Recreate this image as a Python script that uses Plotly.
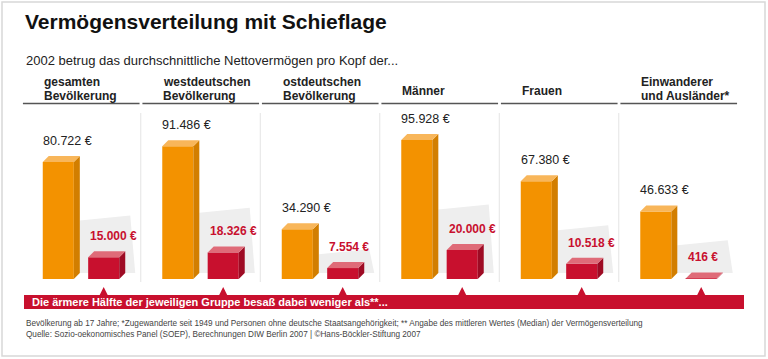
import plotly.graph_objects as go

# ---------------- data ----------------
header_line1 = ["gesamten", "westdeutschen", "ostdeutschen", "", "", "Einwanderer"]
header_line2 = ["Bevölkerung", "Bevölkerung", "Bevölkerung", "Männer", "Frauen", "und Ausländer*"]
header_single = [False, False, False, True, True, False]
mean_wealth = [80722, 91486, 34290, 95928, 67380, 46633]     # durchschnittliches Nettovermögen
median_wealth = [15000, 18326, 7554, 20000, 10518, 416]       # ärmere Hälfte besaß weniger als

title = "Vermögensverteilung mit Schieflage"
subtitle = "2002 betrug das durchschnittliche Nettovermögen pro Kopf der..."
banner_text = "Die ärmere Hälfte der jeweiligen Gruppe besaß dabei weniger als**..."
foot1 = ("Bevölkerung ab 17 Jahre; *Zugewanderte seit 1949 und Personen ohne deutsche "
         "Staatsangehörigkeit; ** Angabe des mittleren Wertes (Median) der Vermögensverteilung")
foot2 = ("Quelle: Sozio-oekonomisches Panel (SOEP), Berechnungen DIW Berlin 2007 | "
         "©Hans-Böckler-Stiftung 2007")

# ---------------- layout geometry ----------------
W, H = 768, 359
UNIT = 119.5          # px per panel
X0 = 81.0             # px of panel 0 centre
KPX = 1.45 / 1000     # px per euro
BASE = 279.0          # px of baseline from top
FONT = "Liberation Sans, Arial, Helvetica, sans-serif"

ORANGE = "#F39200"; ORANGE_SIDE = "#D27E00"; ORANGE_TOP = "#F8B65A"
RED = "#C8102E"; RED_SIDE = "#9E0B24"; RED_TOP = "#DF6B78"
TEXT = "#222222"

def px_x(p):   # horizontal pixel -> x data
    return (p - X0) / UNIT

def px_y(p):   # vertical pixel (from top) -> y data
    return (BASE - p) / KPX

def fx(p):
    return p / W

def fy(p):
    return 1 - p / H

OFF = 0.19
BW = 0.26
DX = 6 / UNIT
DY = 6 / KPX

def eur(v):
    return f"{v:,}".replace(",", ".") + " €"

fig = go.Figure()

n = len(mean_wealth)
xs = list(range(n))
xo = [i - OFF for i in xs]
xr = [i + OFF for i in xs]

annotations = []
shapes = []

def poly_path(px, py):
    return "M " + " L ".join(f"{a},{b}" for a, b in zip(px, py)) + " Z"

# shadows (below the bars)
for i in xs:
    v = mean_wealth[i]
    h = 0.5 * v
    left = xo[i] + BW / 2 + DX
    right = xr[i] + BW / 2 + DX
    sx = [left, left, right + 5 / UNIT, right + 10 / UNIT]
    sy = [DY, h, h + 5 / KPX, DY]
    shapes.append(dict(type="path", xref="x", yref="y", path=poly_path(sx, sy),
                       fillcolor="#EEEEEE", line=dict(width=0), layer="below"))

# front faces as real bars
fig.add_trace(go.Bar(x=xo, y=mean_wealth, width=BW, marker=dict(color=ORANGE, line=dict(width=0)),
                     showlegend=False, hoverinfo="skip"))
fig.add_trace(go.Bar(x=xr, y=median_wealth, width=BW, marker=dict(color=RED, line=dict(width=0)),
                     showlegend=False, hoverinfo="skip"))

# 3D side and top faces
def faces(xc, v, side_col, top_col):
    l = xc - BW / 2
    r = xc + BW / 2
    fig.add_trace(go.Scatter(x=[r, r, r + DX, r + DX, r], y=[0, v, v + DY, DY, 0],
                             mode="lines", fill="toself", fillcolor=side_col,
                             line=dict(width=0), hoverinfo="skip", showlegend=False))
    fig.add_trace(go.Scatter(x=[l, r, r + DX, l + DX, l], y=[v, v, v + DY, v + DY, v],
                             mode="lines", fill="toself", fillcolor=top_col,
                             line=dict(width=0), hoverinfo="skip", showlegend=False))

for i in xs:
    faces(xo[i], mean_wealth[i], ORANGE_SIDE, ORANGE_TOP)
    faces(xr[i], median_wealth[i], RED_SIDE, RED_TOP)

# value labels
for i in xs:
    annotations.append(dict(x=xo[i] - BW / 2 - 2 / UNIT, y=mean_wealth[i], xref="x", yref="y",
                            text=eur(mean_wealth[i]), showarrow=False, xanchor="left",
                            yanchor="middle", yshift=21,
                            font=dict(family=FONT, size=12.5, color=TEXT)))
    annotations.append(dict(x=xr[i] - BW / 2, y=median_wealth[i], xref="x", yref="y",
                            text="<b>" + eur(median_wealth[i]) + "</b>", showarrow=False,
                            xanchor="left", yanchor="middle", yshift=21,
                            font=dict(family=FONT, size=12, color=RED)))
    # arrows from banner
    annotations.append(dict(x=xr[i], y=px_y(287), xref="x", yref="y", text="",
                            showarrow=True, ax=0, ay=9, arrowhead=2, arrowsize=0.9,
                            arrowwidth=2.6, arrowcolor=RED))

# headers
for i in xs:
    hx = xo[i] - BW / 2 - 1 / UNIT
    if header_single[i]:
        annotations.append(dict(x=hx, y=fy(91), xref="x", yref="paper", text="<b>" + header_line2[i] + "</b>",
                                showarrow=False, xanchor="left", yanchor="middle",
                                font=dict(family=FONT, size=12, color=TEXT)))
    else:
        annotations.append(dict(x=hx, y=fy(82), xref="x", yref="paper", text="<b>" + header_line1[i] + "</b>",
                                showarrow=False, xanchor="left", yanchor="middle",
                                font=dict(family=FONT, size=12, color=TEXT)))
        annotations.append(dict(x=hx, y=fy(96), xref="x", yref="paper", text="<b>" + header_line2[i] + "</b>",
                                showarrow=False, xanchor="left", yanchor="middle",
                                font=dict(family=FONT, size=12, color=TEXT)))
    shapes.append(dict(type="line", xref="x", yref="paper", x0=i - 0.486, x1=i + 0.49,
                       y0=fy(103.5), y1=fy(103.5), line=dict(color="#555555", width=1.5)))

# panel dividers
for i in xs[:-1]:
    shapes.append(dict(type="line", xref="x", yref="paper", x0=i + 0.5, x1=i + 0.5,
                       y0=fy(113), y1=fy(282), line=dict(color="#E4E4E4", width=1), layer="below"))

# banner
shapes.append(dict(type="rect", xref="paper", yref="paper", x0=fx(24), x1=fx(744),
                   y0=fy(309), y1=fy(295), fillcolor=RED, line=dict(width=0)))
annotations.append(dict(x=fx(30), y=fy(302), xref="paper", yref="paper", text="<b>" + banner_text + "</b>",
                        showarrow=False, xanchor="left", yanchor="middle",
                        font=dict(family=FONT, size=11, color="white")))

# frame
shapes.append(dict(type="rect", xref="paper", yref="paper", x0=fx(2), x1=fx(765),
                   y0=fy(356), y1=fy(2), line=dict(color="#D8D8D8", width=1.5), layer="below"))

# title, subtitle, footnotes
annotations.append(dict(x=fx(23), y=fy(22), xref="paper", yref="paper", text="<b>" + title + "</b>",
                        showarrow=False, xanchor="left", yanchor="middle",
                        font=dict(family=FONT, size=21, color="#111111")))
annotations.append(dict(x=fx(24), y=fy(60), xref="paper", yref="paper", text=subtitle,
                        showarrow=False, xanchor="left", yanchor="middle",
                        font=dict(family=FONT, size=13, color=TEXT)))
annotations.append(dict(x=fx(24), y=fy(323), xref="paper", yref="paper", text=foot1,
                        showarrow=False, xanchor="left", yanchor="middle",
                        font=dict(family=FONT, size=8.2, color="#444444")))
annotations.append(dict(x=fx(24), y=fy(334), xref="paper", yref="paper", text=foot2,
                        showarrow=False, xanchor="left", yanchor="middle",
                        font=dict(family=FONT, size=8.2, color="#444444")))

fig.update_layout(
    width=W, height=H, autosize=False,
    margin=dict(l=0, r=0, t=0, b=0),
    paper_bgcolor="white", plot_bgcolor="white",
    barmode="overlay",
    xaxis=dict(range=[px_x(0), px_x(W)], visible=False, fixedrange=True),
    yaxis=dict(range=[px_y(H), px_y(0)], visible=False, fixedrange=True),
    annotations=annotations, shapes=shapes,
    showlegend=False,
)

fig.write_html("out.html", config={"displayModeBar": False},
               post_script="document.body.style.margin='0px';")
